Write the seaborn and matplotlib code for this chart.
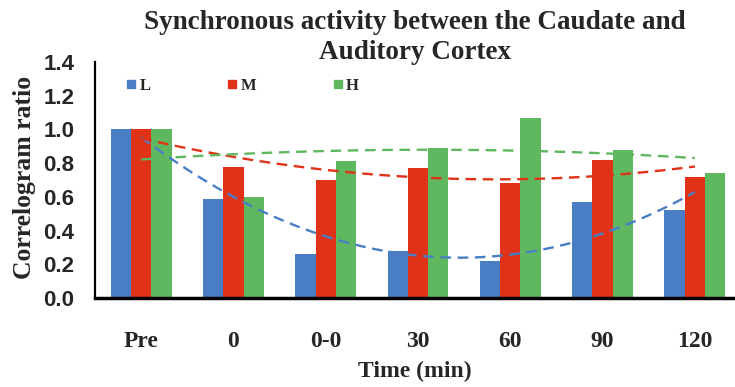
import numpy as np
import pandas as pd
import matplotlib
matplotlib.use("Agg")
import matplotlib.pyplot as plt
from matplotlib.lines import Line2D
from matplotlib.ticker import FixedLocator
import seaborn as sns

categories = ["Pre", "0", "0-0", "30", "60", "90", "120"]
series_names = ["L", "M", "H"]
L_values = [1.00, 0.59, 0.26, 0.28, 0.22, 0.57, 0.52]
M_values = [1.00, 0.78, 0.70, 0.77, 0.68, 0.82, 0.72]
H_values = [1.00, 0.60, 0.81, 0.89, 1.07, 0.88, 0.74]
y_ticks = [0.0, 0.2, 0.4, 0.6, 0.8, 1.0, 1.2, 1.4]
colors = ["#4a7ec4", "#df3217", "#5fb85f"]

title_text = "Synchronous activity between the Caudate and\nAuditory Cortex"
xlabel_text = "Time (min)"
ylabel_text = "Correlogram ratio"

sns.set_style("white")
serif = ["Liberation Serif", "DejaVu Serif"]
sans = ["Liberation Sans", "DejaVu Sans"]

df = pd.DataFrame({
    "time": categories * 3,
    "series": sum([[s] * len(categories) for s in series_names], []),
    "value": L_values + M_values + H_values,
})

fig = plt.figure(figsize=(7.35, 3.87), dpi=100)
ax = fig.add_axes([95 / 735, (387 - 298) / 387, (741 - 95) / 735, (298 - 62) / 387])

sns.barplot(data=df, x="time", y="value", hue="series", order=categories,
            hue_order=series_names, palette=colors, width=0.66, gap=0,
            saturation=1, ax=ax, legend=False, errorbar=None, linewidth=0)

# polynomial (order 2) trendlines, as in the original spreadsheet chart
xs = np.arange(len(categories))
xx = np.linspace(0, len(categories) - 1, 200)
for vals, c in zip([L_values, M_values, H_values], colors):
    coef = np.polyfit(xs, vals, 2)
    ax.plot(xx, np.polyval(coef, xx), ls=(0, (4.5, 2.8)), color=c, lw=1.7)

ax.set_xlim(-0.5, len(categories) - 0.5)
ax.set_ylim(0, 1.4)
ax.yaxis.set_major_locator(FixedLocator(y_ticks))
ax.set_yticklabels([f"{v:.1f}" for v in y_ticks],
                   fontfamily=sans, fontweight="bold", fontsize=16)

ax.xaxis.set_major_locator(FixedLocator(xs))
ax.set_xticklabels(categories, fontfamily=serif, fontweight="bold", fontsize=17)
ax.xaxis.set_minor_locator(FixedLocator(np.arange(-0.5, len(categories), 1.0)))
ax.tick_params(axis="x", which="major", length=0, pad=24)
ax.tick_params(axis="x", which="minor", length=6, width=2.5, direction="out", color="black")
ax.tick_params(axis="y", which="major", length=5, width=1.5, direction="out", color="black", pad=10)

for side in ["top", "right"]:
    ax.spines[side].set_visible(False)
ax.spines["bottom"].set_linewidth(2.5)
ax.spines["left"].set_linewidth(1.6)
ax.spines["bottom"].set_color("black")
ax.spines["left"].set_color("black")

ax.set_xlabel(xlabel_text, fontfamily=serif, fontweight="bold", fontsize=17)
ax.xaxis.set_label_coords(0.495, -0.265)
ax.set_ylabel(ylabel_text, fontfamily=serif, fontweight="bold", fontsize=18.5)
ax.yaxis.set_label_coords(-0.092, 0.51)

handles = [Line2D([], [], marker="s", ls="none", color=c, markersize=6) for c in colors]
leg = ax.legend(handles, series_names, ncol=3, frameon=False, loc="upper left",
                bbox_to_anchor=(0.025, 0.995), handlelength=0.6, handletextpad=0.2,
                columnspacing=4.6, prop={"family": serif, "weight": "bold", "size": 12})

fig.text(0.565, 1 - 10 / 387, title_text, ha="center", va="top", fontfamily=serif,
         fontweight="bold", fontsize=19.5, linespacing=1.25)

fig.savefig("out.png", dpi=100)
